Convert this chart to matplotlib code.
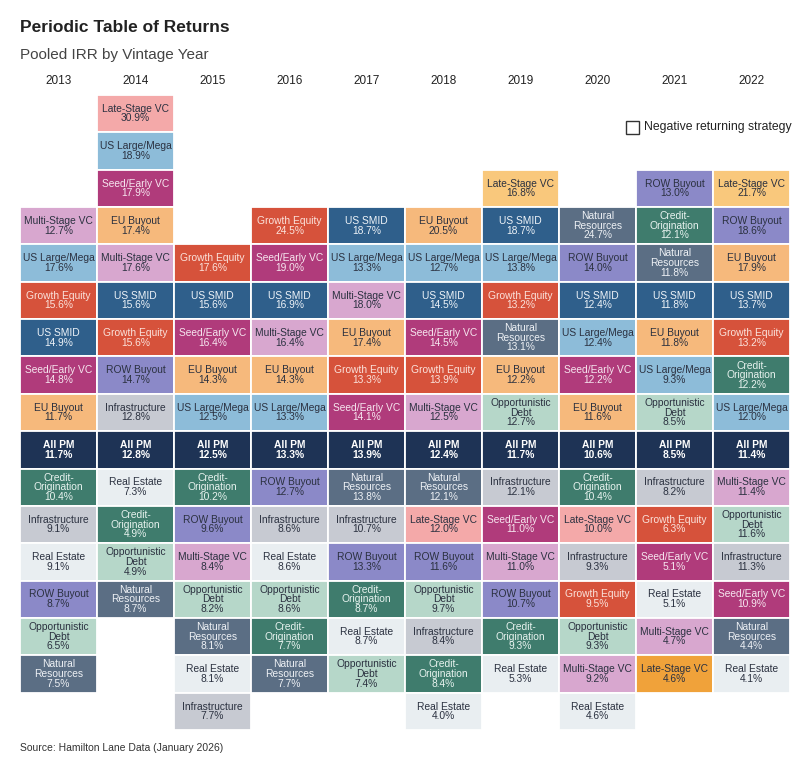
import matplotlib.pyplot as plt
from matplotlib.patches import Rectangle

years = [2013, 2014, 2015, 2016, 2017, 2018, 2019, 2020, 2021, 2022]

# each column top to bottom; "All PM" rows are aligned across years
col_2013 = [("Multi-Stage VC", 12.7), ("US Large/Mega", 17.6), ("Growth Equity", 15.6), ("US SMID", 14.9),
            ("Seed/Early VC", 14.8), ("EU Buyout", 11.7), ("All PM", 11.7), ("Credit-Origination", 10.4),
            ("Infrastructure", 9.1), ("Real Estate", 9.1), ("ROW Buyout", 8.7), ("Opportunistic Debt", 6.5),
            ("Natural Resources", 7.5)]
col_2014 = [("Late-Stage VC", 30.9), ("US Large/Mega", 18.9), ("Seed/Early VC", 17.9), ("EU Buyout", 17.4),
            ("Multi-Stage VC", 17.6), ("US SMID", 15.6), ("Growth Equity", 15.6), ("ROW Buyout", 14.7),
            ("Infrastructure", 12.8), ("All PM", 12.8), ("Real Estate", 7.3), ("Credit-Origination", 4.9),
            ("Opportunistic Debt", 4.9), ("Natural Resources", 8.7)]
col_2015 = [("Growth Equity", 17.6), ("US SMID", 15.6), ("Seed/Early VC", 16.4), ("EU Buyout", 14.3),
            ("US Large/Mega", 12.5), ("All PM", 12.5), ("Credit-Origination", 10.2), ("ROW Buyout", 9.6),
            ("Multi-Stage VC", 8.4), ("Opportunistic Debt", 8.2), ("Natural Resources", 8.1),
            ("Real Estate", 8.1), ("Infrastructure", 7.7)]
col_2016 = [("Growth Equity", 24.5), ("Seed/Early VC", 19.0), ("US SMID", 16.9), ("Multi-Stage VC", 16.4),
            ("EU Buyout", 14.3), ("US Large/Mega", 13.3), ("All PM", 13.3), ("ROW Buyout", 12.7),
            ("Infrastructure", 8.6), ("Real Estate", 8.6), ("Opportunistic Debt", 8.6),
            ("Credit-Origination", 7.7), ("Natural Resources", 7.7)]
col_2017 = [("US SMID", 18.7), ("US Large/Mega", 13.3), ("Multi-Stage VC", 18.0), ("EU Buyout", 17.4),
            ("Growth Equity", 13.3), ("Seed/Early VC", 14.1), ("All PM", 13.9), ("Natural Resources", 13.8),
            ("Infrastructure", 10.7), ("ROW Buyout", 13.3), ("Credit-Origination", 8.7), ("Real Estate", 8.7),
            ("Opportunistic Debt", 7.4)]
col_2018 = [("EU Buyout", 20.5), ("US Large/Mega", 12.7), ("US SMID", 14.5), ("Seed/Early VC", 14.5),
            ("Growth Equity", 13.9), ("Multi-Stage VC", 12.5), ("All PM", 12.4), ("Natural Resources", 12.1),
            ("Late-Stage VC", 12.0), ("ROW Buyout", 11.6), ("Opportunistic Debt", 9.7), ("Infrastructure", 8.4),
            ("Credit-Origination", 8.4), ("Real Estate", 4.0)]
col_2019 = [("Late-Stage VC", 16.8), ("US SMID", 18.7), ("US Large/Mega", 13.8), ("Growth Equity", 13.2),
            ("Natural Resources", 13.1), ("EU Buyout", 12.2), ("Opportunistic Debt", 12.7), ("All PM", 11.7),
            ("Infrastructure", 12.1), ("Seed/Early VC", 11.0), ("Multi-Stage VC", 11.0), ("ROW Buyout", 10.7),
            ("Credit-Origination", 9.3), ("Real Estate", 5.3)]
col_2020 = [("Natural Resources", 24.7), ("ROW Buyout", 14.0), ("US SMID", 12.4), ("US Large/Mega", 12.4),
            ("Seed/Early VC", 12.2), ("EU Buyout", 11.6), ("All PM", 10.6), ("Credit-Origination", 10.4),
            ("Late-Stage VC", 10.0), ("Infrastructure", 9.3), ("Growth Equity", 9.5), ("Opportunistic Debt", 9.3),
            ("Multi-Stage VC", 9.2), ("Real Estate", 4.6)]
col_2021 = [("ROW Buyout", 13.0), ("Credit-Origination", 12.1), ("Natural Resources", 11.8), ("US SMID", 11.8),
            ("EU Buyout", 11.8), ("US Large/Mega", 9.3), ("Opportunistic Debt", 8.5), ("All PM", 8.5),
            ("Infrastructure", 8.2), ("Growth Equity", 6.3), ("Seed/Early VC", 5.1), ("Real Estate", 5.1),
            ("Multi-Stage VC", 4.7), ("Late-Stage VC", 4.6)]
col_2022 = [("Late-Stage VC", 21.7), ("ROW Buyout", 18.6), ("EU Buyout", 17.9), ("US SMID", 13.7),
            ("Growth Equity", 13.2), ("Credit-Origination", 12.2), ("US Large/Mega", 12.0), ("All PM", 11.4),
            ("Multi-Stage VC", 11.4), ("Opportunistic Debt", 11.6), ("Infrastructure", 11.3),
            ("Seed/Early VC", 10.9), ("Natural Resources", 4.4), ("Real Estate", 4.1)]
columns = [col_2013, col_2014, col_2015, col_2016, col_2017, col_2018, col_2019, col_2020, col_2021, col_2022]

# fill colour, text colour
style = {
    "All PM": ("#1e3355", "white"),
    "EU Buyout": ("#f6b97c", "#2b3140"),
    "US Large/Mega": ("#8dbcd9", "#2b3140"),
    "Seed/Early VC": ("#b03b7b", "#f6e6ef"),
    "Multi-Stage VC": ("#d8a7cf", "#2b3140"),
    "Growth Equity": ("#d6523b", "#fbe3dc"),
    "US SMID": ("#2f5f8b", "#eef3f8"),
    "ROW Buyout": ("#8b89c8", "#2b3140"),
    "Infrastructure": ("#c7cad2", "#2b3140"),
    "Credit-Origination": ("#3f7c6d", "#e8f3ef"),
    "Real Estate": ("#e9eef1", "#2b3140"),
    "Opportunistic Debt": ("#b6d7c9", "#2b3140"),
    "Natural Resources": ("#5b6e84", "#eef1f5"),
    "Late-Stage VC": ("#f4a9a9", "#2b3140"),
}
override = {
    (2019, "Late-Stage VC"): ("#f9c87c", "#2b3140"),
    (2022, "Late-Stage VC"): ("#f9c87c", "#2b3140"),
    (2021, "Late-Stage VC"): ("#f0a23a", "#2b3140"),
}
labels = {
    "Credit-Origination": "Credit-\nOrigination",
    "Natural Resources": "Natural\nResources",
    "Opportunistic Debt": "Opportunistic\nDebt",
}

W, H = 800, 769
fig = plt.figure(figsize=(W / 100, H / 100), dpi=100)
left, right, top, bottom = 20, 790, 95, 730
ax = fig.add_axes([left / W, 1 - bottom / H, (right - left) / W, (bottom - top) / H])
ax.set_xlim(0, len(years))
ax.set_ylim(-7.5, 9.5)
ax.axis("off")

font = ["Liberation Sans", "DejaVu Sans"]
for i, (year, col) in enumerate(zip(years, columns)):
    names = [n for n, _ in col]
    k = names.index("All PM")
    for j, (name, val) in enumerate(col):
        row = k - j
        fc, tc = override.get((year, name), style[name])
        ax.add_patch(Rectangle((i, row - 0.5), 1, 1, facecolor=fc, edgecolor="white", linewidth=1.3))
        txt = labels.get(name, name) + f"\n{val:.1f}%"
        ax.text(i + 0.5, row, txt, ha="center", va="center", color=tc, fontsize=7.4,
                family=font, linespacing=0.95, fontweight="bold" if name == "All PM" else "normal")
    ax.text(i + 0.5, 9.72, str(year), ha="center", va="bottom", fontsize=8.5, color="#222222", family=font)

fig.text(20 / W, 1 - 28 / H, "Periodic Table of Returns", fontsize=12.5, fontweight="bold",
         color="#222222", va="center", ha="left", family=font)
fig.text(20 / W, 1 - 55 / H, "Pooled IRR by Vintage Year", fontsize=11, color="#444444",
         va="center", ha="left", family=font)
fig.text(20 / W, 1 - 748 / H, "Source: Hamilton Lane Data (January 2026)", fontsize=7.5,
         color="#333333", va="center", ha="left", family=font)

fig.patches.append(Rectangle((626 / W, 1 - 134 / H), 13 / W, 13 / H, transform=fig.transFigure,
                             facecolor="white", edgecolor="#333333", linewidth=1))
fig.text(644 / W, 1 - 127 / H, "Negative returning strategy", fontsize=8.8, color="#222222",
         va="center", ha="left", family=font)

fig.savefig("out.png", dpi=100, facecolor="white")
